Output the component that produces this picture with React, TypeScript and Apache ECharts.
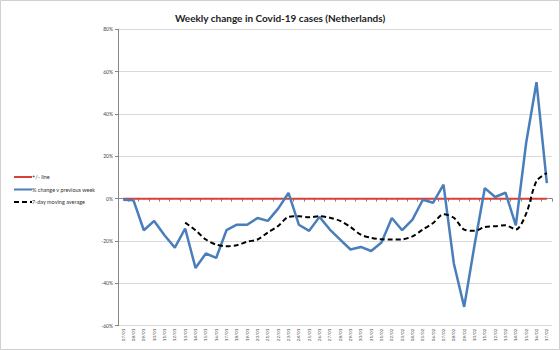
import React, { useEffect, useRef } from "react";
import * as echarts from "echarts";

const categories = [
  "07/01","08/01","09/01","10/01","11/01","12/01","13/01","14/01","15/01","16/01",
  "17/01","18/01","19/01","20/01","21/01","22/01","23/01","24/01","25/01","26/01",
  "27/01","28/01","29/01","30/01","31/01","01/02","02/02","03/02","04/02","05/02",
  "06/02","07/02","08/02","09/02","10/02","11/02","12/02","13/02","14/02","15/02",
  "16/02","17/02",
];

const weeklyChange = [
  -0.5, -0.8, -14.9, -10.5, -17.3, -23.1, -14.1, -32.7, -25.9, -28.0,
  -14.9, -12.3, -12.3, -9.1, -10.5, -4.7, 2.7, -12.3, -15.2, -8.6,
  -14.6, -19.3, -24.0, -22.8, -24.7, -20.7, -9.1, -14.9, -9.9, -0.5,
  -1.9, 6.6, -30.6, -51.1, -22.0, 5.0, 0.8, 2.8, -12.6, 26.4,
  55.0, 7.4,
];

const movingAverage: (number | null)[] = [
  null, null, null, null, null, null, -11.3, -14.9, -19.3, -21.7,
  -22.5, -22.0, -20.3, -19.3, -16.0, -12.9, -8.6, -8.3, -8.8, -8.3,
  -9.0, -10.5, -13.4, -17.0, -18.5, -19.2, -19.3, -19.2, -17.8, -14.6,
  -11.5, -7.4, -9.0, -14.6, -15.2, -13.4, -13.0, -12.6, -14.6, -7.1,
  8.3, 12.1,
];

const zeroLine = categories.map(() => 0);

const FONT = "Lato, 'Noto Sans', sans-serif";

export default function App() {
  const ref = useRef<HTMLDivElement>(null);
  useEffect(() => {
    if (!ref.current) return;
    const chart = echarts.init(ref.current, undefined, { renderer: "svg" });
    chart.setOption({
      animation: false,
      backgroundColor: "#ffffff",
      textStyle: { fontFamily: FONT },
      title: {
        text: "Weekly change in Covid-19 cases (Netherlands)",
        left: "center",
        top: 8,
        textStyle: { fontSize: 10, fontWeight: "bold", color: "#222", fontFamily: FONT },
      },
      graphic: [
        {
          type: "rect",
          shape: { x: 0.5, y: 0.5, width: 559, height: 349 },
          style: { fill: "none", stroke: "#d0d0d0", lineWidth: 1 },
          silent: true,
        },
      ],
      legend: {
        orient: "vertical",
        left: 8,
        top: 169,
        itemWidth: 18,
        itemHeight: 6,
        itemGap: 6.5,
        itemStyle: { opacity: 0 },
        textStyle: { fontSize: 5.5, color: "#333", fontFamily: FONT, padding: [0, 0, 0, -5] },
        data: ["+/- line", "% change v previous week", "7-day moving average"],
      },
      grid: { left: 118, right: 8, top: 29.3, bottom: 24.3 },
      xAxis: {
        type: "category",
        data: categories,
        boundaryGap: true,
        axisLine: { lineStyle: { color: "#868686", width: 1 } },
        axisTick: { show: true, length: 3, lineStyle: { color: "#868686" } },
        axisLabel: { rotate: 90, fontSize: 4.5, color: "#444", margin: 3, interval: 0, fontFamily: FONT },
      },
      yAxis: {
        type: "value",
        min: -60,
        max: 80,
        interval: 20,
        axisLine: { show: true, lineStyle: { color: "#868686", width: 1 } },
        axisTick: { show: true, length: 3, lineStyle: { color: "#868686" } },
        axisLabel: { formatter: "{value}%", fontSize: 5, color: "#444", margin: 5, fontFamily: FONT },
        splitLine: { lineStyle: { color: "#d9d9d9", width: 1 } },
      },
      series: [
        {
          name: "+/- line",
          type: "line",
          data: zeroLine,
          symbol: "none",
          lineStyle: { color: "#d9403b", width: 2 },
          itemStyle: { color: "#d9403b" },
          z: 2,
        },
        {
          name: "% change v previous week",
          type: "line",
          data: weeklyChange,
          symbol: "none",
          lineStyle: { color: "#4a7ebb", width: 2.5 },
          itemStyle: { color: "#4a7ebb" },
          z: 3,
        },
        {
          name: "7-day moving average",
          type: "line",
          data: movingAverage,
          symbol: "none",
          smooth: 0.3,
          lineStyle: { color: "#000000", width: 2, type: [5, 3] },
          itemStyle: { color: "#000000" },
          z: 4,
        },
      ],
    });
    return () => chart.dispose();
  }, []);
  return (
    <div
      ref={ref}
      style={{ position: "fixed", left: 0, top: 0, width: 560, height: 350 }}
    />
  );
}
